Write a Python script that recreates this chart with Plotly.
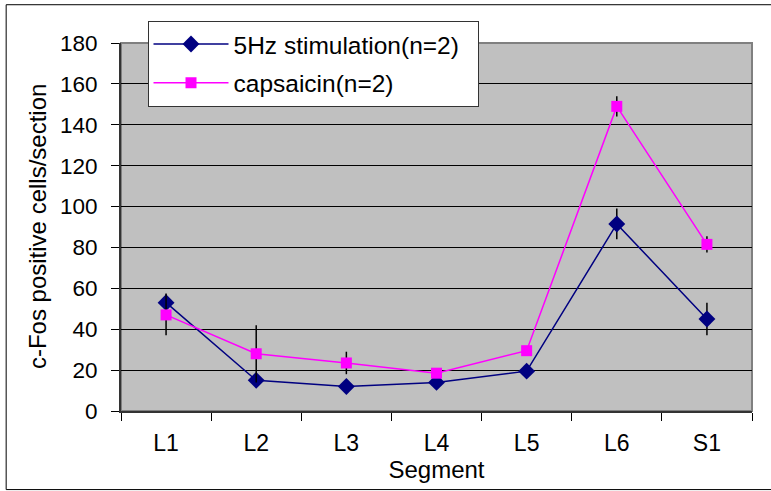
import plotly.graph_objects as go

segments = ["L1", "L2", "L3", "L4", "L5", "L6", "S1"]
stim_5hz = [53, 15, 12, 14, 19.5, 91.5, 45]
stim_5hz_err = [4.5, 0, 0, 0, 0, 7.5, 8]
capsaicin = [47, 28, 23.5, 18.5, 29.5, 149, 81.5]
capsaicin_err = [10, 14, 5.5, 0, 0, 5, 4]
y_ticks = [0, 20, 40, 60, 80, 100, 120, 140, 160, 180]
series_names = ["5Hz stimulation(n=2)", "capsaicin(n=2)"]

FONT = "Liberation Sans, Arial, sans-serif"
PAD = "\u00a0\u00a0"

fig = go.Figure()
fig.add_trace(go.Scatter(
    x=segments, y=stim_5hz, name=series_names[0] + PAD,
    mode="lines+markers", legendgroup="a",
    line=dict(color="#000080", width=1.5),
    marker=dict(symbol="diamond", size=13, color="#000080"),
    error_y=dict(type="data", array=stim_5hz_err, visible=True,
                 color="black", thickness=1.5, width=0),
))
fig.add_trace(go.Scatter(
    x=segments, y=capsaicin, name=series_names[1],
    mode="lines+markers", legendgroup="b",
    line=dict(color="#FF00FF", width=1.5),
    marker=dict(symbol="square", size=11, color="#FF00FF"),
    error_y=dict(type="data", array=capsaicin_err, visible=True,
                 color="black", thickness=1.5, width=0),
))

fig.update_layout(
    width=771, height=491,
    margin=dict(l=121, r=19, t=43, b=80),
    paper_bgcolor="white", plot_bgcolor="#C0C0C0",
    font=dict(family=FONT, color="black"),
    showlegend=True,
    legend=dict(
        x=0.042, y=1.061, xanchor="left", yanchor="top",
        bgcolor="white", bordercolor="#333333", borderwidth=1,
        font=dict(size=24.5, family=FONT), itemwidth=75,
        traceorder="grouped", tracegroupgap=4,
    ),
    xaxis=dict(
        type="category", range=[-0.5, 6.5],
        showline=True, linecolor="#333333", linewidth=2,
        ticks="outside", ticklen=8, tickcolor="black", tickson="boundaries",
        showgrid=False, tickfont=dict(size=23), ticklabelstandoff=10,
        title=dict(text="Segment", font=dict(size=24), standoff=6),
    ),
    yaxis=dict(
        range=[0, 180], tickvals=y_ticks,
        showline=True, linecolor="#333333", linewidth=2,
        ticks="outside", ticklen=8, tickcolor="black",
        showgrid=True, gridcolor="black", gridwidth=1,
        zeroline=False, tickfont=dict(size=22.5), ticklabelstandoff=9,
    ),
    shapes=[
        dict(type="rect", xref="paper", yref="paper", x0=0, x1=1, y0=0, y1=1,
             line=dict(color="#808080", width=2), layer="below"),
        dict(type="rect", xref="paper", yref="paper", x0=-0.182, x1=1.05,
             y0=-0.2135, y1=1.104, line=dict(color="black", width=1)),
    ],
    annotations=[
        dict(text="c-Fos positive cells/section", xref="paper", yref="paper",
             x=-0.133, y=0.5, textangle=-90, showarrow=False,
             font=dict(size=24, family=FONT), xanchor="center", yanchor="middle"),
    ],
)

fig.write_html("out.html", config={"displayModeBar": False},
               post_script="document.body.style.margin='0px';")
